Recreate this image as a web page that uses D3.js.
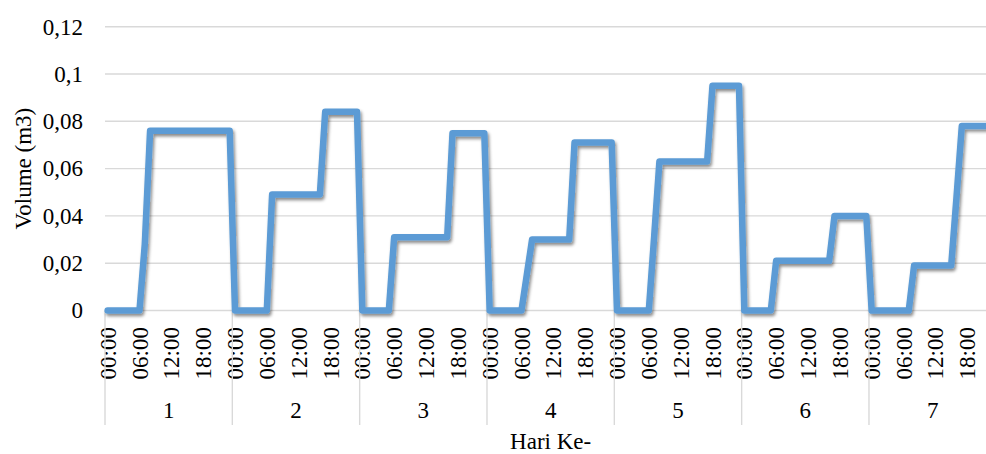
<!DOCTYPE html>
<html>
<head>
<meta charset="utf-8">
<script src="https://cdn.jsdelivr.net/npm/d3@7"></script>
<style>
  html, body { margin: 0; padding: 0; background: #fff; }
  svg { display: block; }
  text { font-family: "Liberation Serif", "DejaVu Serif", "Times New Roman", serif; fill: #000; }
</style>
</head>
<body>
<svg id="chart" width="986" height="454" font-family="'Liberation Serif', 'DejaVu Serif', serif"></svg>
<script>
// ---- data ----
const days = ["1", "2", "3", "4", "5", "6", "7"];
const hourTicks = ["00:00", "06:00", "12:00", "18:00"];
const yTicks = [0, 0.02, 0.04, 0.06, 0.08, 0.1, 0.12];
const yTitle = "Volume (m3)";
const xTitle = "Hari Ke-";

// hourly values (00:00 .. 23:00) for each day
const day1 = [0, 0, 0, 0, 0, 0, 0, 0.028, 0.076, 0.076, 0.076, 0.076, 0.076, 0.076, 0.076, 0.076, 0.076, 0.076, 0.076, 0.076, 0.076, 0.076, 0.076, 0.076];
const day2 = [0, 0, 0, 0, 0, 0, 0, 0.049, 0.049, 0.049, 0.049, 0.049, 0.049, 0.049, 0.049, 0.049, 0.049, 0.084, 0.084, 0.084, 0.084, 0.084, 0.084, 0.084];
const day3 = [0, 0, 0, 0, 0, 0, 0.031, 0.031, 0.031, 0.031, 0.031, 0.031, 0.031, 0.031, 0.031, 0.031, 0.031, 0.075, 0.075, 0.075, 0.075, 0.075, 0.075, 0.075];
const day4 = [0, 0, 0, 0, 0, 0, 0, 0.015, 0.030, 0.030, 0.030, 0.030, 0.030, 0.030, 0.030, 0.030, 0.071, 0.071, 0.071, 0.071, 0.071, 0.071, 0.071, 0.071];
const day5 = [0, 0, 0, 0, 0, 0, 0, 0.031, 0.063, 0.063, 0.063, 0.063, 0.063, 0.063, 0.063, 0.063, 0.063, 0.063, 0.095, 0.095, 0.095, 0.095, 0.095, 0.095];
const day6 = [0, 0, 0, 0, 0, 0, 0.021, 0.021, 0.021, 0.021, 0.021, 0.021, 0.021, 0.021, 0.021, 0.021, 0.021, 0.040, 0.040, 0.040, 0.040, 0.040, 0.040, 0.040];
const day7 = [0, 0, 0, 0, 0, 0, 0, 0, 0.019, 0.019, 0.019, 0.019, 0.019, 0.019, 0.019, 0.019, 0.048, 0.078, 0.078, 0.078, 0.078, 0.078, 0.078, 0.078];

// ---- layout ----
const W = 986, H = 454;
const plotLeft = 105, plotTop = 26.7, plotBottom = 310.5;
const dayWidth = 127.33;
const plotRight = plotLeft + days.length * dayWidth;
const fontSize = 23;
const fontFam = "'Liberation Serif', 'DejaVu Serif', serif";
const gridColor = "#D9D9D9";
const lineColor = "#5B9BD5";

const values = [day1, day2, day3, day4, day5, day6, day7].flat();
const perDay = day1.length;

const svg = d3.select("#chart");

const defs = svg.append("defs");
const f = defs.append("filter").attr("id", "shadow")
  .attr("x", "-5%").attr("y", "-10%").attr("width", "110%").attr("height", "130%");
f.append("feDropShadow").attr("dx", 1.5).attr("dy", 2.5).attr("stdDeviation", 1.8)
  .attr("flood-color", "#000").attr("flood-opacity", 0.45);

const x = d3.scaleBand().domain(d3.range(values.length)).range([plotLeft, plotRight]).paddingInner(0).paddingOuter(0);
const cx = i => x(i) + x.bandwidth() / 2;
const y = d3.scaleLinear().domain([0, 0.12]).range([plotBottom, plotTop]);
const dayScale = d3.scaleBand().domain(days).range([plotLeft, plotRight]).paddingInner(0).paddingOuter(0);

// gridlines
svg.append("g").selectAll("line").data(yTicks).join("line")
  .attr("x1", plotLeft).attr("x2", plotRight)
  .attr("y1", d => y(d)).attr("y2", d => y(d))
  .attr("stroke", gridColor).attr("stroke-width", 1.4);

// y axis labels
const yAxis = d3.axisLeft(y).tickValues(yTicks).tickSize(0).tickPadding(22)
  .tickFormat(d => d === 0 ? "0" : String(+d.toFixed(2)).replace(".", ","));
const gy = svg.append("g").attr("transform", `translate(${plotLeft},0)`).call(yAxis)
  .attr("font-family", fontFam).attr("font-size", fontSize);
gy.select(".domain").remove();
gy.selectAll("text").style("font-size", fontSize + "px").style("font-family", fontFam).attr("fill", "#000");

// x axis hour labels
const xAxis = d3.axisBottom(x).tickValues(d3.range(0, values.length, perDay / hourTicks.length))
  .tickSize(0).tickFormat(i => hourTicks[(i % perDay) / (perDay / hourTicks.length)]);
const gx = svg.append("g").attr("transform", `translate(0,327)`).call(xAxis)
  .attr("font-family", fontFam).attr("font-size", fontSize);
gx.select(".domain").remove();
gx.selectAll("text")
  .attr("x", 0).attr("y", 0).attr("dy", "0.35em")
  .attr("transform", "rotate(-90)")
  .style("text-anchor", "end")
  .style("font-size", fontSize + "px").style("font-family", fontFam).attr("fill", "#000");

// day group separators
const boundaries = days.map(d => dayScale(d)).concat([plotRight]);
svg.append("g").selectAll("line").data(boundaries).join("line")
  .attr("x1", d => d).attr("x2", d => d)
  .attr("y1", plotBottom).attr("y2", 425)
  .attr("stroke", gridColor).attr("stroke-width", 1.4);

// day labels
svg.append("g").selectAll("text").data(days).join("text")
  .attr("x", d => dayScale(d) + dayScale.bandwidth() / 2)
  .attr("y", 418)
  .attr("text-anchor", "middle")
  .style("font-size", fontSize + "px")
  .text(d => d);

// line
const line = d3.line().x((d, i) => cx(i)).y(d => y(d));
svg.append("path").datum(values)
  .attr("d", line)
  .attr("fill", "none")
  .attr("stroke", lineColor)
  .attr("stroke-width", 6.5)
  .attr("stroke-linejoin", "round")
  .attr("stroke-linecap", "round")
  .attr("filter", "url(#shadow)");

// axis titles
svg.append("text")
  .attr("transform", `translate(31,${(plotTop + plotBottom) / 2}) rotate(-90)`)
  .attr("text-anchor", "middle")
  .style("font-size", fontSize + "px")
  .text(yTitle);

svg.append("text")
  .attr("x", (plotLeft + plotRight) / 2)
  .attr("y", 448.5)
  .attr("text-anchor", "middle")
  .style("font-size", fontSize + "px")
  .text(xTitle);
</script>
</body>
</html>
